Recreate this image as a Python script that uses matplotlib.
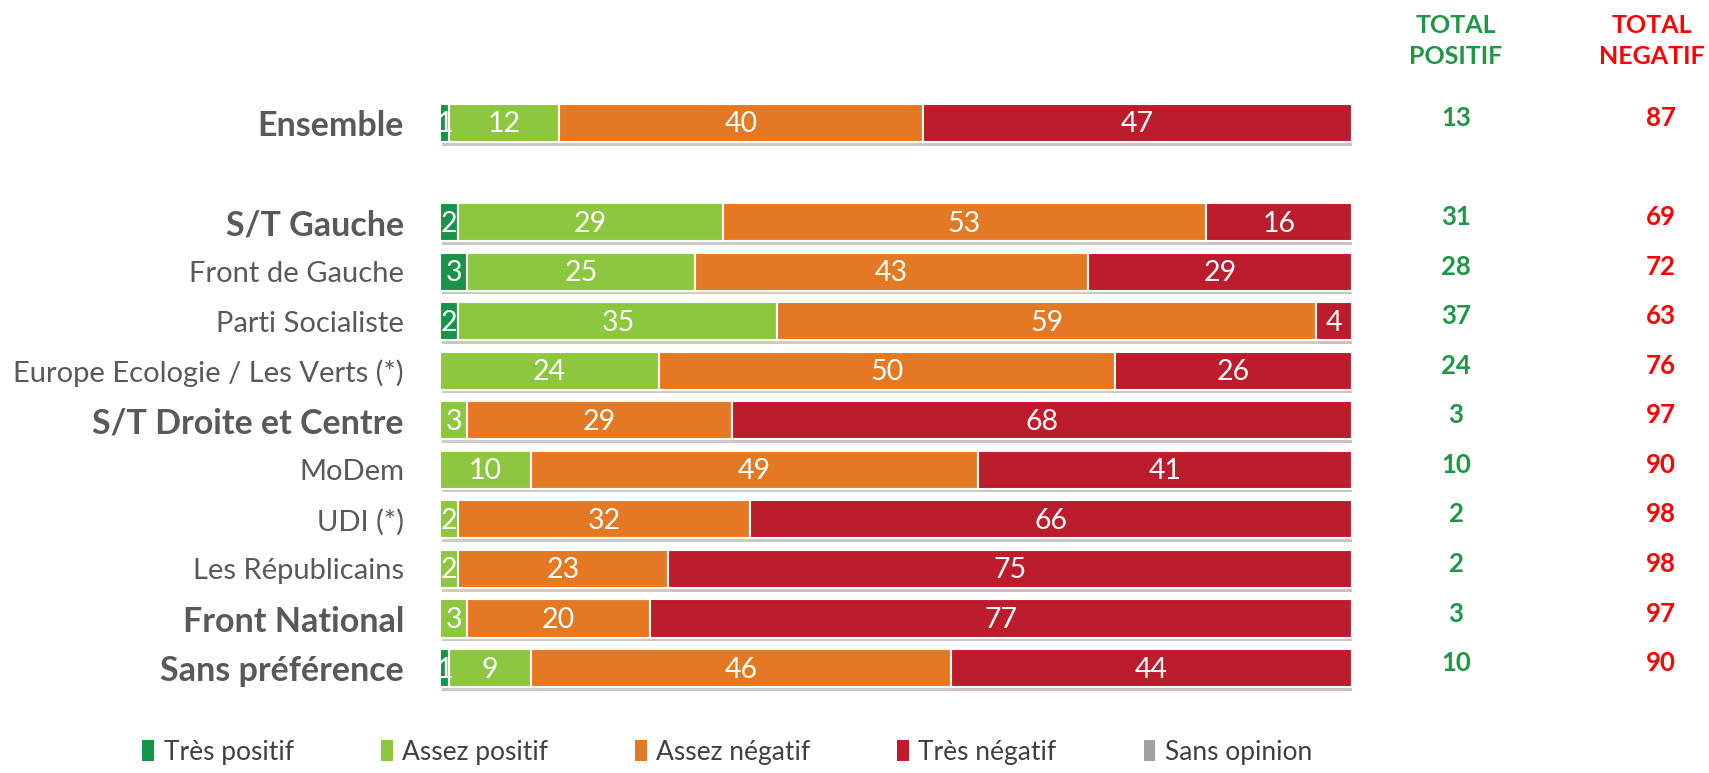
import matplotlib.pyplot as plt
import matplotlib.patheffects as pe
from matplotlib.patches import Patch

plt.rcParams['font.family'] = ['Lato', 'DejaVu Sans']

# Data
groups = ["Ensemble", "S/T Gauche", "Front de Gauche", "Parti Socialiste",
          "Europe Ecologie / Les Verts (*)", "S/T Droite et Centre", "MoDem",
          "UDI (*)", "Les Républicains", "Front National", "Sans préférence"]
bold_groups = ["Ensemble", "S/T Gauche", "S/T Droite et Centre",
               "Front National", "Sans préférence"]
rows = [0, 2, 3, 4, 5, 6, 7, 8, 9, 10, 11]

tres_positif = [1, 2, 3, 2, 0, 0, 0, 0, 0, 0, 1]
assez_positif = [12, 29, 25, 35, 24, 3, 10, 2, 2, 3, 9]
assez_negatif = [40, 53, 43, 59, 50, 29, 49, 32, 23, 20, 46]
tres_negatif = [47, 16, 29, 4, 26, 68, 41, 66, 75, 77, 44]
sans_opinion = [0, 0, 0, 0, 0, 0, 0, 0, 0, 0, 0]

total_positif = [13, 31, 28, 37, 24, 3, 10, 2, 2, 3, 10]
total_negatif = [87, 69, 72, 63, 76, 97, 90, 98, 98, 97, 90]

series = [("Très positif", tres_positif, "#17934a"),
          ("Assez positif", assez_positif, "#8dc63f"),
          ("Assez négatif", assez_negatif, "#e47924"),
          ("Très négatif", tres_negatif, "#bd1c2d"),
          ("Sans opinion", sans_opinion, "#a0a0a0")]

fig = plt.figure(figsize=(17.09, 7.73), dpi=100)
ax = fig.add_axes([0.2575, 0.1037, 0.5336, 0.7693])

shadow = [pe.SimplePatchShadow(offset=(1.5, -2.5), alpha=0.25), pe.Normal()]
left = [0] * len(groups)
for name, vals, color in series:
    bars = ax.barh(rows, vals, left=left, height=0.77, color=color,
                   edgecolor="white", linewidth=1.5)
    for b in bars:
        b.set_path_effects(shadow)
    for r, v, l in zip(rows, vals, left):
        if v > 0:
            ax.text(l + v / 2, r + 0.03, str(v), ha="center", va="center",
                    color="white", fontsize=20.5)
    left = [a + b for a, b in zip(left, vals)]

ax.set_xlim(0, 100)
ax.set_ylim(11.5, -0.5)
ax.set_xticks([])
ax.set_yticks(rows)
ax.set_yticklabels(groups)
for lab in ax.get_yticklabels():
    if lab.get_text() in bold_groups:
        lab.set_fontweight("bold")
        lab.set_fontsize(24.5)
    else:
        lab.set_fontsize(21)
    lab.set_color("#595959")
ax.tick_params(axis="y", length=0, pad=26)
for s in ax.spines.values():
    s.set_visible(False)

# Totals columns
for r, p, n in zip(rows, total_positif, total_negatif):
    ax.text(111.4, r - 0.1, str(p), ha="center", va="center", color="#1e9646",
            fontsize=18.5, fontweight="bold", clip_on=False)
    ax.text(133.9, r - 0.1, str(n), ha="center", va="center", color="#ff0000",
            fontsize=18.5, fontweight="bold", clip_on=False)

fig.text(0.852, 0.947, "TOTAL\nPOSITIF", ha="center", va="center",
         color="#1e9646", fontsize=18, fontweight="bold", linespacing=1.4)
fig.text(0.9665, 0.947, "TOTAL\nNEGATIF", ha="center", va="center",
         color="#ff0000", fontsize=18, fontweight="bold", linespacing=1.4)

handles = [Patch(facecolor=c, label=n) for n, _, c in series]
fig.legend(handles=handles, loc="lower center", bbox_to_anchor=(0.4255, -0.02),
           ncol=5, frameon=False, fontsize=19, handlelength=0.45,
           handleheight=0.8, handletextpad=0.35, columnspacing=3.3,
           labelcolor="#404040")

plt.savefig("out.png", dpi=100)
